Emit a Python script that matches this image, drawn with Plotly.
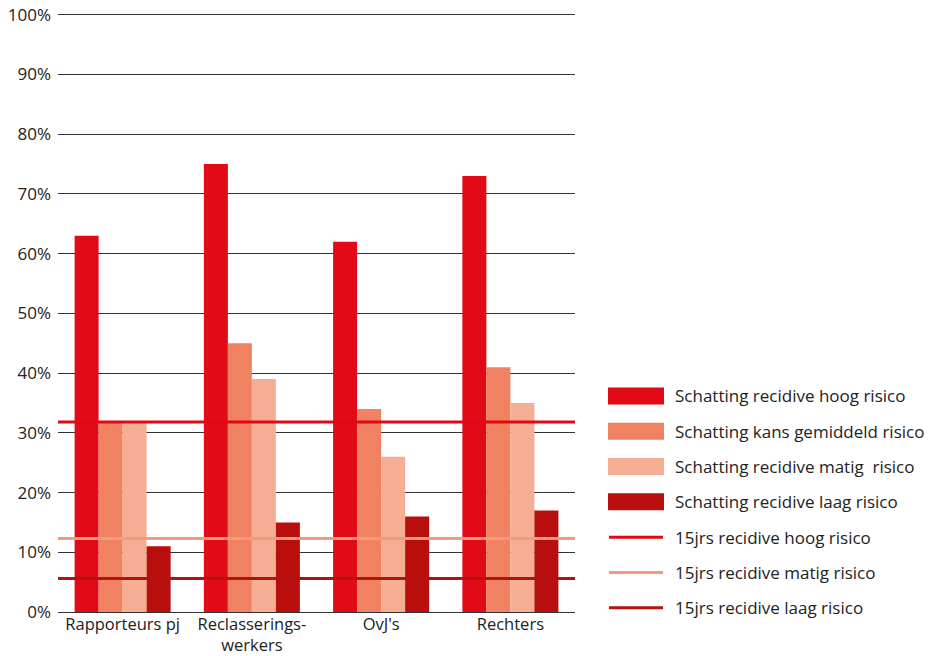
import plotly.graph_objects as go

categories = ["Rapporteurs pj", "Reclasserings-<br>werkers", "OvJ's", "Rechters"]
bar_names = ["Schatting recidive hoog risico", "Schatting kans gemiddeld risico",
             "Schatting recidive matig  risico", "Schatting recidive laag risico"]
hoog = [63, 75, 62, 73]
gemiddeld = [32, 45, 34, 41]
matig = [32, 39, 26, 35]
laag = [11, 15, 16, 17]
bar_colors = ["#e20a16", "#f08262", "#f5ae94", "#b90e0e"]

line_names = ["15jrs recidive hoog risico", "15jrs recidive matig risico", "15jrs recidive laag risico"]
line_values = [31.8, 12.3, 5.6]
line_colors = ["#e30613", "#f29a7e", "#b5110f"]

tick_vals = [0, 10, 20, 30, 40, 50, 60, 70, 80, 90, 100]
tick_text = [f"{v}%" for v in tick_vals]

FONT = "Open Sans"
YMAX = 100.3

fig = go.Figure()
for name, vals, col in zip(bar_names, [hoog, gemiddeld, matig, laag], bar_colors):
    fig.add_trace(go.Bar(x=categories, y=vals, name=name, marker=dict(color=col, line=dict(width=0)),
                         showlegend=False))

shapes = []
for v, col in zip(line_values, line_colors):
    shapes.append(dict(type="line", xref="paper", x0=0, x1=1, yref="y", y0=v, y1=v,
                       line=dict(color=col, width=3), layer="above"))

# custom legend (paper coordinates computed from pixel layout)
L, R, B = 58, 575, 612
T = B - (B - 15) * YMAX / 100
W, H = R - L, B - T
def px_x(p):
    return (p - L) / W
def px_y(p):
    return (B - p) / H

annotations = []
items = list(zip(bar_names, bar_colors, ["bar"] * 4)) + list(zip(line_names, line_colors, ["line"] * 3))
for i, (name, col, kind) in enumerate(items):
    cy = 396 + 35.3 * i
    if kind == "bar":
        shapes.append(dict(type="rect", xref="paper", yref="paper",
                           x0=px_x(608), x1=px_x(664), y0=px_y(cy - 8.5), y1=px_y(cy + 8.5),
                           fillcolor=col, line=dict(width=0)))
    else:
        shapes.append(dict(type="line", xref="paper", yref="paper",
                           x0=px_x(609), x1=px_x(663), y0=px_y(cy), y1=px_y(cy),
                           line=dict(color=col, width=3)))
    annotations.append(dict(text=name, xref="paper", yref="paper", x=px_x(673), y=px_y(cy),
                            xanchor="left", yanchor="middle", showarrow=False,
                            font=dict(family=FONT, size=17, color="#222")))

fig.update_layout(
    width=931, height=656,
    margin=dict(l=L, r=931 - R, t=T, b=656 - B, autoexpand=False),
    paper_bgcolor="white", plot_bgcolor="white",
    barmode="group", bargap=0.257, bargroupgap=0,
    font=dict(family=FONT, size=16, color="#222"),
    shapes=shapes, annotations=annotations,
    xaxis=dict(showgrid=False, showline=False, ticks="", automargin=False,
               tickfont=dict(size=16.5), ticklabelstandoff=0),
    yaxis=dict(range=[0, YMAX], tickvals=tick_vals, ticktext=tick_text, showgrid=True,
               gridcolor="#333", gridwidth=1, zeroline=True, zerolinecolor="#333",
               zerolinewidth=1, ticks="", ticklabelstandoff=6, automargin=False,
               tickfont=dict(size=17)),
)

fig.write_html("out.html", config={"displayModeBar": False},
               post_script="document.body.style.margin='0';document.body.style.overflow='hidden';")
